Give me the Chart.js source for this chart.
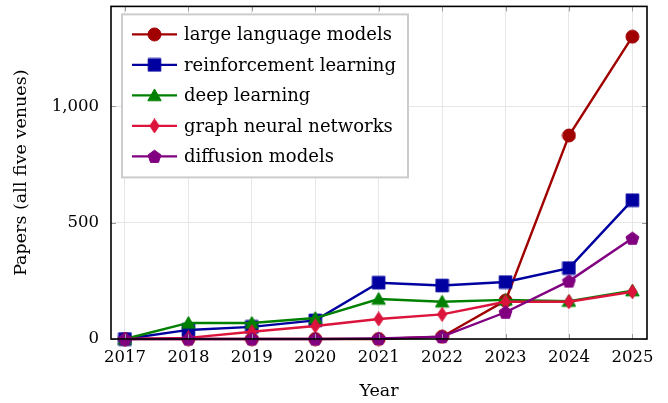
<!DOCTYPE html>
<html>
<head>
<meta charset="utf-8">
<script src="https://cdn.jsdelivr.net/npm/chart.js"></script>
<style>
  html, body { margin: 0; padding: 0; background: #fff; }
  #holder { width: 668px; height: 403px; }
</style>
</head>
<body>
<div id="holder"><canvas id="ctx" width="668" height="403"></canvas></div>
<script>
const years = [2017, 2018, 2019, 2020, 2021, 2022, 2023, 2024, 2025];
const seriesNames = ['large language models', 'reinforcement learning', 'deep learning', 'graph neural networks', 'diffusion models'];
const llm = [0, 0, 0, 0, 0, 10, 165, 875, 1300];
const rl = [0, 39, 52, 80, 242, 230, 245, 305, 597];
const dl = [0, 69, 69, 90, 172, 160, 168, 163, 208];
const gnn = [0, 5, 31, 56, 86, 106, 160, 160, 203];
const diffusion = [0, 0, 0, 0, 2, 10, 115, 249, 433];
const yTicks = [0, 500, 1000];

const colors = ['#a00000', '#0000a0', '#008000', '#dc143c', '#800080'];
const FONT = "'DejaVu Serif', serif";

// marker images, pgfplots style
function marker(shape, color) {
  const c = document.createElement('canvas');
  c.width = 15; c.height = 15;
  const g = c.getContext('2d');
  g.fillStyle = color;
  g.strokeStyle = color;
  g.lineWidth = 1;
  g.beginPath();
  if (shape == 'circle') {
    g.arc(7.5, 7.5, 6.5, 0, Math.PI * 2);
  } else if (shape == 'square') {
    g.rect(1.2, 1.2, 12.6, 12.6);
  } else if (shape == 'triangle') {
    g.moveTo(7.5, 1); g.lineTo(14.2, 12.8); g.lineTo(0.8, 12.8);
  } else if (shape == 'diamond') {
    g.moveTo(7.5, 0.5); g.lineTo(12.2, 7.5); g.lineTo(7.5, 14.5); g.lineTo(2.8, 7.5);
  } else {
    for (let i = 0; i < 5; i++) {
      const a = -Math.PI / 2 + i * 2 * Math.PI / 5;
      const px = 7.5 + 6.8 * Math.cos(a), py = 8 + 6.8 * Math.sin(a);
      if (i == 0) g.moveTo(px, py); else g.lineTo(px, py);
    }
  }
  g.closePath();
  g.fill();
  g.stroke();
  return c;
}

const shapes = ['circle', 'square', 'triangle', 'diamond', 'pentagon'];
const values = [llm, rl, dl, gnn, diffusion];
const markers = shapes.map((s, i) => marker(s, colors[i]));

const datasets = values.map((v, i) => ({
  label: seriesNames[i],
  data: years.map((y, j) => ({ x: y, y: v[j] })),
  borderColor: colors[i],
  backgroundColor: colors[i],
  borderWidth: 2.4,
  pointStyle: markers[i],
  order: 4 - i,
  clip: false
}));

const frame = {
  id: 'frame',
  afterDraw(chart) {
    const c = chart.ctx;
    const a = chart.chartArea;
    const xs = chart.scales.x, ys = chart.scales.y;
    c.save();
    // inward tick marks
    c.strokeStyle = '#9a9a9a';
    c.lineWidth = 1;
    c.beginPath();
    years.forEach(y => {
      const px = Math.round(xs.getPixelForValue(y)) + 0.5;
      c.moveTo(px, a.bottom); c.lineTo(px, a.bottom - 5);
      c.moveTo(px, a.top); c.lineTo(px, a.top + 5);
    });
    yTicks.forEach(t => {
      const py = Math.round(ys.getPixelForValue(t)) + 0.5;
      c.moveTo(a.left, py); c.lineTo(a.left + 5, py);
      c.moveTo(a.right, py); c.lineTo(a.right - 5, py);
    });
    c.stroke();
    c.strokeStyle = '#000';
    c.lineWidth = 1.6;
    c.strokeRect(a.left, a.top, a.right - a.left, a.bottom - a.top);

    // legend box
    const lx = a.left + 11, ly = a.top + 8, lw = 286, lh = 163;
    c.fillStyle = '#fff';
    c.fillRect(lx, ly, lw, lh);
    c.strokeStyle = '#cccccc';
    c.lineWidth = 2;
    c.strokeRect(lx, ly, lw, lh);
    c.font = '18px ' + FONT;
    c.textBaseline = 'middle';
    c.textAlign = 'left';
    chart.data.datasets.forEach((d, i) => {
      const cy = ly + 20 + i * 30.5;
      c.strokeStyle = d.borderColor;
      c.lineWidth = 2.4;
      c.beginPath();
      c.moveTo(lx + 10, cy); c.lineTo(lx + 55, cy);
      c.stroke();
      c.drawImage(d.pointStyle, lx + 32.5 - 7.5, cy - 7.5);
      c.fillStyle = '#000';
      c.fillText(d.label, lx + 62, cy + 1);
    });
    c.restore();
  }
};

const chart = new Chart(document.getElementById('ctx'), {
  type: 'line',
  data: { datasets: datasets },
  plugins: [frame],
  options: {
    responsive: false,
    animation: false,
    events: [],
    layout: { padding: { top: 5, right: 21, left: 0, bottom: 0 } },
    plugins: { legend: { display: false }, tooltip: { enabled: false } },
    elements: { line: { tension: 0 } },
    scales: {
      x: {
        type: 'linear',
        min: 2016.78,
        max: 2025.23,
        afterFit: s => { s.height = 64; s.paddingLeft = 0; s.paddingRight = 0; },
        afterBuildTicks: s => { s.ticks = years.map(v => ({ value: v })); },
        grid: { color: '#e6e6e6', drawTicks: false },
        border: { display: false },
        ticks: {
          padding: 9,
          color: '#000',
          font: { family: FONT, size: 16.5 },
          callback: v => String(v)
        },
        title: {
          display: true,
          text: 'Year',
          color: '#000',
          font: { family: FONT, size: 17.5 },
          padding: { top: 0, bottom: 1 }
        }
      },
      y: {
        min: 0,
        max: 1430,
        afterFit: s => { s.width = 111; s.paddingTop = 0; s.paddingBottom = 0; },
        afterBuildTicks: s => { s.ticks = yTicks.map(v => ({ value: v })); },
        grid: { color: '#e6e6e6', drawTicks: false },
        border: { display: false },
        ticks: {
          padding: 12,
          color: '#000',
          font: { family: FONT, size: 16.5 },
          callback: v => v.toLocaleString('en-US')
        },
        title: {
          display: true,
          text: 'Papers (all five venues)',
          color: '#000',
          font: { family: FONT, size: 17.5 },
          padding: { top: 11, bottom: 0 }
        }
      }
    }
  }
});
</script>
</body>
</html>
